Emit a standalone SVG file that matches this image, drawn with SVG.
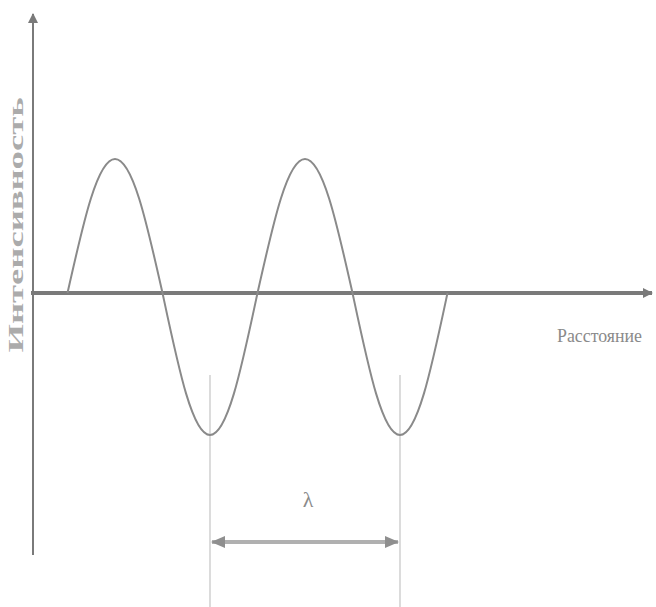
<svg xmlns="http://www.w3.org/2000/svg" width="656" height="607" viewBox="0 0 656 607">
<style>
.axis{stroke:#7a7a7a;fill:none}
.wave{stroke:#8a8a8a;stroke-width:2;fill:none}
.guide{stroke:#c4c4c4;stroke-width:1.2;fill:none}
.lbl{font-family:"Liberation Serif",serif;fill:#8a8a8a}
.ylbl{fill:#ababab}
</style>
<defs>
<marker id="ah" markerWidth="10" markerHeight="10" refX="9" refY="5" orient="auto" markerUnits="userSpaceOnUse">
<path d="M0,0 L10,5 L0,10 Z" fill="#7a7a7a"/>
</marker>
<marker id="ah2" markerWidth="14" markerHeight="12" refX="13" refY="6" orient="auto-start-reverse" markerUnits="userSpaceOnUse">
<path d="M0,0 L14,6 L0,12 Z" fill="#8f8f8f"/>
</marker>
</defs>
<rect width="656" height="607" fill="#ffffff"/>
<g id="connectors">
<line id="y-axis" class="axis" x1="33" y1="555" x2="33" y2="14" stroke-width="2" marker-end="url(#ah)"/>
<line id="x-axis" class="axis" x1="31" y1="293" x2="652" y2="293" stroke-width="4" marker-end="url(#ah)"/>
<line class="guide" x1="210" y1="375" x2="210" y2="607"/>
<line class="guide" x1="400" y1="375" x2="400" y2="607"/>
<line id="lambda-arrow" x1="212" y1="542" x2="398" y2="542" stroke="#b0b0b0" stroke-width="4" marker-start="url(#ah2)" marker-end="url(#ah2)"/>
</g>
<g id="sine">
<path class="wave" d="M67.5,293 C83,224 97.2,159 115,159 C132.8,159 147,224 162.5,293 C178,365.7 192.2,435 210,435 C227.8,435 242,365.7 257.5,293 C273,224 287.2,159 305,159 C322.8,159 337,224 352.5,293 C368,365.7 382.2,435 400,435 C417.8,435 432,365.7 447.5,293"/>
</g>
<g id="label-y">
<text class="lbl ylbl" transform="translate(23,225) rotate(-90)" text-anchor="middle" font-size="21" font-weight="bold" textLength="255" lengthAdjust="spacingAndGlyphs">Интенсивность</text>
</g>
<g id="label-x">
<text class="lbl" x="557" y="342" font-size="18" textLength="85" lengthAdjust="spacingAndGlyphs">Расстояние</text>
</g>
<g id="label-lambda">
<text class="lbl" x="308" y="507" font-size="22" text-anchor="middle">λ</text>
</g>
</svg>
